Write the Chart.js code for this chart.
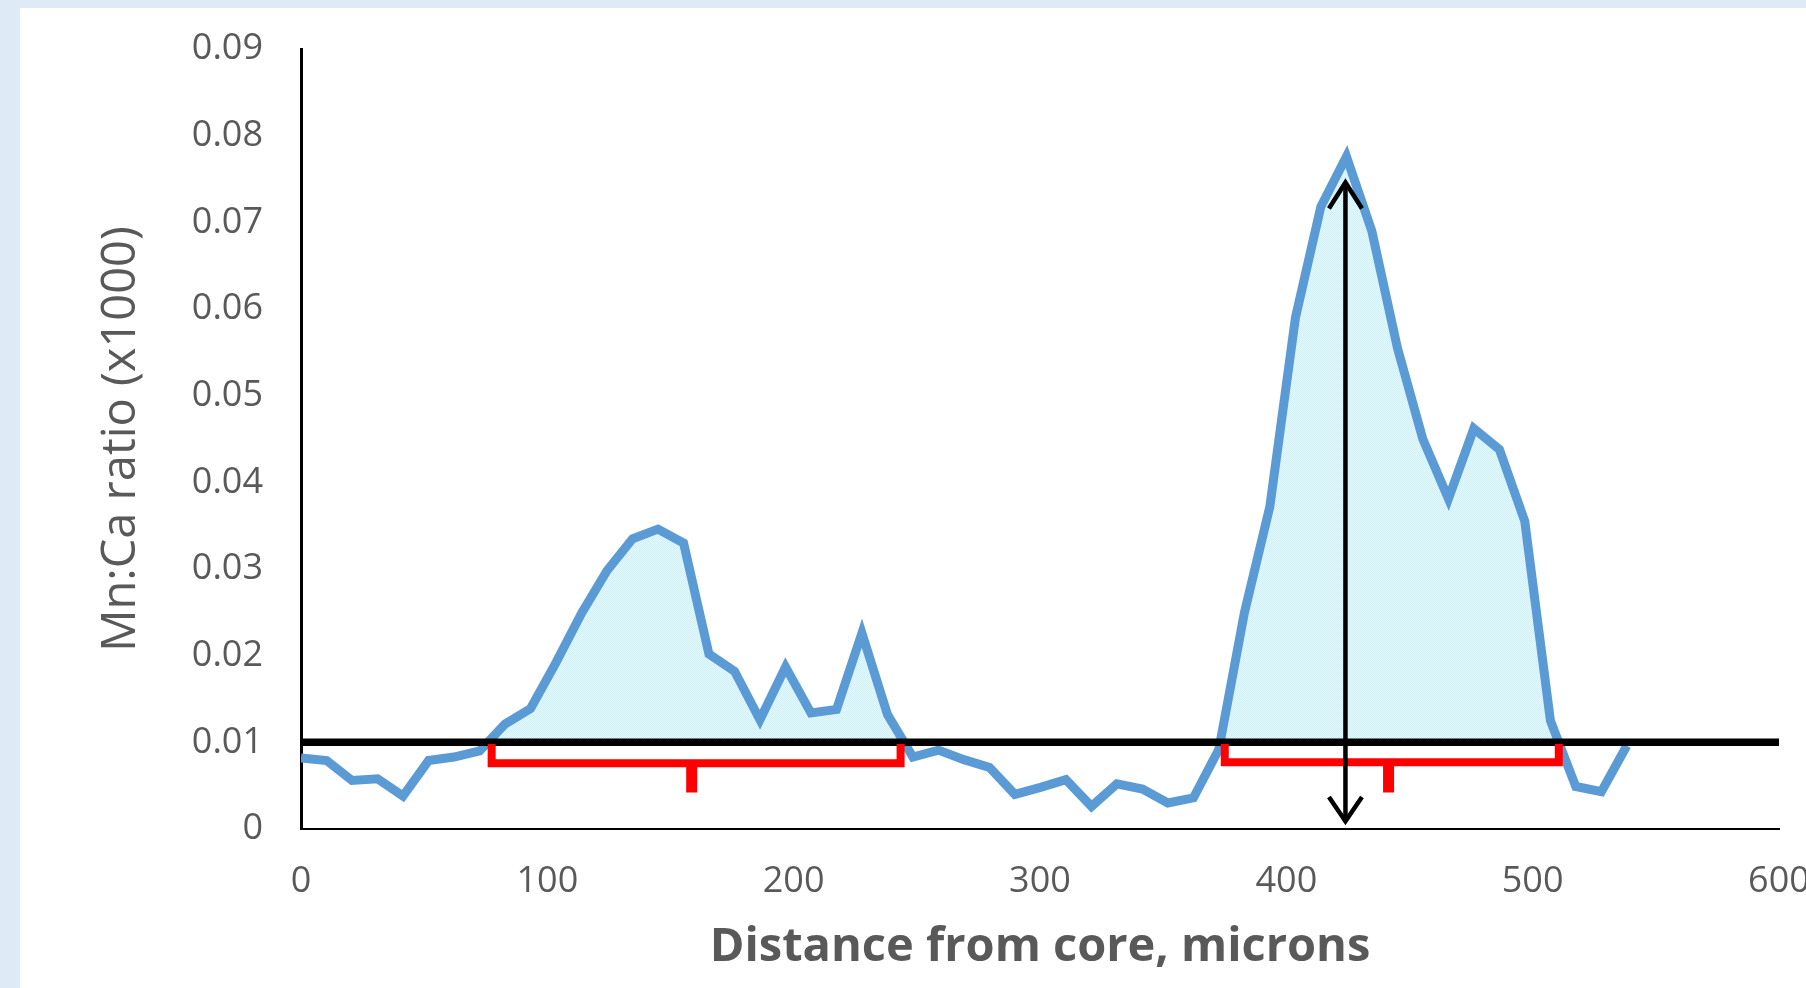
<!DOCTYPE html>
<html lang="en">
<head>
  <meta charset="UTF-8">
  <title>Mn:Ca ratio profile</title>
  <script src="https://cdn.jsdelivr.net/npm/chart.js"></script>
  <style>
    html, body { margin: 0; padding: 0; overflow: hidden; background: #deebf7; }
    #profileChart { display: block; }
  </style>
</head>
<body>
<canvas id="profileChart" width="1806" height="988"></canvas>

<script>
  // distance from core (microns) and Mn:Ca ratio
  var distance = [0, 10.4, 20.7, 31.1, 41.4, 51.8, 62.1, 72.5, 82.8, 93.2,
    103.5, 113.9, 124.2, 134.6, 144.9, 155.3, 165.6, 176, 186.3, 196.7,
    207, 217.4, 227.7, 238.1, 248.4, 258.8, 269.1, 279.5, 289.8, 300.2,
    310.5, 320.9, 331.2, 341.6, 351.9, 362.3, 372.6, 383, 393.3, 403.7,
    414, 424.4, 434.7, 445.1, 455.4, 465.8, 476.1, 486.5, 496.8, 507.2,
    517.5, 527.9, 538.2];
  var mnCa = [0.0082, 0.0079, 0.0056, 0.0058, 0.0038, 0.0079, 0.0083, 0.0090, 0.0121, 0.0139,
    0.0192, 0.0249, 0.0298, 0.0335, 0.0346, 0.0330, 0.0202, 0.0182, 0.0126, 0.0187,
    0.0134, 0.0138, 0.0226, 0.0132, 0.0083, 0.0091, 0.0080, 0.0071, 0.0040, 0.0048,
    0.0057, 0.0026, 0.0052, 0.0046, 0.0030, 0.0036, 0.0092, 0.0250, 0.0372, 0.0590,
    0.0718, 0.0776, 0.0690, 0.0555, 0.0450, 0.0381, 0.0462, 0.0438, 0.0355, 0.0125,
    0.0049, 0.0043, 0.0096];

  var xTickValues = [0, 100, 200, 300, 400, 500, 600];
  var xTickLabels = ['0', '100', '200', '300', '400', '500', '600'];
  var yTickValues = [0, 0.01, 0.02, 0.03, 0.04, 0.05, 0.06, 0.07, 0.08, 0.09];
  var yTickLabels = ['0', '0.01', '0.02', '0.03', '0.04', '0.05', '0.06', '0.07', '0.08', '0.09'];

  // threshold line
  var thresholdX = [0, 600];
  var thresholdY = [0.01, 0.01];

  // red brackets under the two zones
  var bracket1X = [77.4, 77.4, 243.4, 243.4];
  var bracket1Y = [0.0098, 0.0076, 0.0076, 0.0098];
  var bracket1TickX = [158.6, 158.6];
  var bracket1TickY = [0.0076, 0.0042];
  var bracket2X = [375, 375, 510.6, 510.6];
  var bracket2Y = [0.0098, 0.0077, 0.0077, 0.0098];
  var bracket2TickX = [441.5, 441.5];
  var bracket2TickY = [0.0077, 0.0042];

  // double headed arrow over the big peak
  var arrowX = [424, 424];
  var arrowY = [0.0745, 0.0010];
  var arrowTopX = [417.3, 424, 430.7];
  var arrowTopY = [0.0716, 0.0746, 0.0716];
  var arrowBottomX = [417.3, 424, 430.7];
  var arrowBottomY = [0.0037, 0.0009, 0.0037];

  function pts(xs, ys) {
    return xs.map(function(x, i) { return {x: x, y: ys[i]}; });
  }

  function mark(data, color, width) {
    return {
      data: data,
      borderColor: color,
      borderWidth: width,
      pointRadius: 0,
      fill: false,
      tension: 0
    };
  }

  var canvas = document.getElementById('profileChart');
  var ctx = canvas.getContext('2d');

  // light dotted fill like the original
  var dots = document.createElement('canvas');
  dots.width = 2;
  dots.height = 2;
  var dctx = dots.getContext('2d');
  dctx.fillStyle = '#e4fbfe';
  dctx.fillRect(0, 0, 2, 2);
  dctx.fillStyle = '#d0eef8';
  dctx.fillRect(0, 0, 1, 1);
  dctx.fillRect(1, 1, 1, 1);
  var dotFill = ctx.createPattern(dots, 'repeat');

  var panelBackground = {
    id: 'panelBackground',
    beforeDraw: function(chart) {
      var c = chart.ctx;
      c.save();
      c.fillStyle = '#deebf7';
      c.fillRect(0, 0, chart.width, chart.height);
      c.fillStyle = '#ffffff';
      c.fillRect(20, 8, chart.width - 20, chart.height - 8);
      c.restore();
    }
  };

  var profile = mark(pts(distance, mnCa), '#5b9bd5', 9);
  profile.fill = { target: { value: 0.01 }, above: dotFill, below: 'rgba(0,0,0,0)' };
  profile.borderJoinStyle = 'miter';

  var tickFont = { family: 'Open Sans', size: 36 };

  new Chart(ctx, {
    type: 'line',
    data: {
      datasets: [
        mark(pts(arrowX, arrowY), '#000000', 4.5),
        mark(pts(arrowTopX, arrowTopY), '#000000', 4.5),
        mark(pts(arrowBottomX, arrowBottomY), '#000000', 4.5),
        mark(pts(bracket1X, bracket1Y), '#ff0000', 8),
        mark(pts(bracket1TickX, bracket1TickY), '#ff0000', 11),
        mark(pts(bracket2X, bracket2Y), '#ff0000', 8),
        mark(pts(bracket2TickX, bracket2TickY), '#ff0000', 11),
        mark(pts(thresholdX, thresholdY), '#000000', 7.5),
        profile
      ]
    },
    options: {
      responsive: false,
      devicePixelRatio: 1,
      animation: false,
      layout: { padding: { left: 0, top: 49, right: 27, bottom: 0 } },
      plugins: {
        legend: { display: false },
        tooltip: { enabled: false }
      },
      scales: {
        x: {
          type: 'linear',
          min: 0,
          max: 600,
          afterBuildTicks: function(s) {
            s.ticks = xTickValues.map(function(v) { return {value: v}; });
          },
          afterFit: function(s) {
            s.height = 159;
            s.paddingLeft = 0;
            s.paddingRight = 0;
          },
          grid: { display: false, drawTicks: false },
          border: { display: true, color: '#000000', width: 2 },
          ticks: {
            autoSkip: false,
            maxRotation: 0,
            padding: 31,
            color: '#595959',
            font: tickFont,
            callback: function(v, i) { return xTickLabels[i]; }
          },
          title: {
            display: true,
            text: 'Distance from core, microns',
            color: '#595959',
            font: { family: 'Open Sans', size: 47, weight: 'bold' },
            padding: { top: 0, bottom: 12 }
          }
        },
        y: {
          type: 'linear',
          min: 0,
          max: 0.09,
          afterBuildTicks: function(s) {
            s.ticks = yTickValues.map(function(v) { return {value: v}; });
          },
          afterFit: function(s) {
            s.width = 301;
            s.paddingTop = 0;
            s.paddingBottom = 0;
          },
          grid: { display: false, drawTicks: false },
          border: { display: true, color: '#000000', width: 3 },
          ticks: {
            padding: 38,
            color: '#595959',
            font: tickFont,
            callback: function(v, i) { return yTickLabels[i]; }
          },
          title: {
            display: true,
            text: 'Mn:Ca ratio (x1000)',
            color: '#595959',
            font: { family: 'Open Sans', size: 47 },
            padding: { top: 93, bottom: 0 }
          }
        }
      }
    },
    plugins: [panelBackground]
  });
</script>
</body>
</html>
